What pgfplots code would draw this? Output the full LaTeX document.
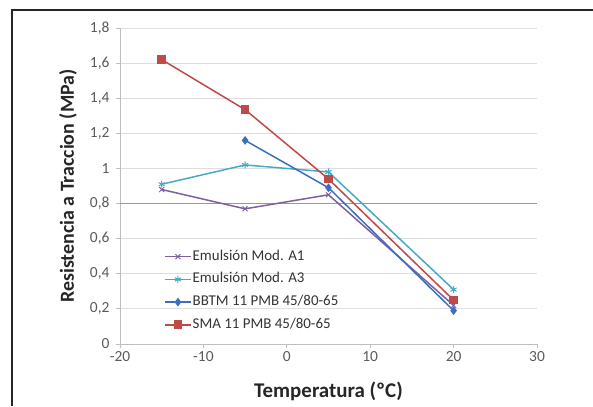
\documentclass[border=0pt]{standalone}
\usepackage{pgfplots}
\pgfplotsset{compat=1.18}
\usepackage{fontspec}
\setmainfont{Carlito}
\definecolor{cpurple}{RGB}{125,96,160}
\definecolor{ccyan}{RGB}{70,170,197}
\definecolor{cblue}{RGB}{60,110,190}
\definecolor{cred}{RGB}{190,75,72}
\definecolor{cgrid}{RGB}{222,222,222}
\definecolor{caxis}{RGB}{190,190,190}
\definecolor{ctick}{RGB}{90,90,90}
\begin{document}
\begin{tikzpicture}[x=1bp,y=1bp]
\useasboundingbox (-120,-62) rectangle (473,344);
\draw[line width=1.2bp,black!85] (-108,-62) -- (-108,334) -- (473,334);
\begin{axis}[
  at={(0,0)}, anchor=south west,
  scale only axis, width=417bp, height=316bp,
  xmin=-20, xmax=30, ymin=0, ymax=1.8,
  xtick={-20,-10,...,30}, ytick={0,0.2,...,1.8},
  axis x line=bottom, axis y line=left,
  axis line style={caxis, line width=0.8bp, -},
  tick style={caxis, line width=0.8bp},
  tick align=outside, major tick length=4bp,
  ymajorgrids, grid style={cgrid, line width=0.8bp},
  extra y ticks={0.8}, extra y tick labels={},
  extra y tick style={grid style={black!40, line width=0.8bp}},
  /pgf/number format/assume math mode=true,
  /pgf/number format/use comma,
  /pgf/number format/fixed,
  ticklabel style={font=\fontsize{15.5}{17}\selectfont, text=ctick},
  yticklabel style={xshift=-3bp},
  xlabel={\textbf{Temperatura (ºC)}},
  ylabel={\textbf{Resistencia a Traccion (MPa)}},
  xlabel style={font=\fontsize{21}{24}\selectfont, text=black!85,
    at={(rel axis cs:0.5,0)}, anchor=center, yshift=-47bp},
  ylabel style={font=\fontsize{20}{23}\selectfont, text=black!85,
    at={(rel axis cs:-0.1247,0.5)}, anchor=center, rotate=0},
  legend style={at={(44bp,95bp)}, anchor=north west, draw=none, fill=none,
    font=\fontsize{15}{17}\selectfont, text=black!80, row sep=7.7bp,
    inner sep=0pt, nodes={inner sep=1bp, text height=10bp, text depth=3bp}},
  legend cell align=left,
  legend image code/.code={\draw[mark repeat=2,mark phase=2]
    plot coordinates {(0bp,0bp) (13bp,0bp) (26bp,0bp)};},
  every axis plot/.append style={line width=1.5bp},
]
\addplot[cpurple, mark=x, mark size=3.5bp, mark options={line width=1bp}]
  coordinates {(-15,0.88) (-5,0.77) (5,0.85) (20,0.22)};
\addlegendentry{Emulsión Mod. A1}
\addplot[ccyan, mark=asterisk, mark size=3.5bp, mark options={line width=1bp}]
  coordinates {(-15,0.91) (-5,1.02) (5,0.98) (20,0.31)};
\addlegendentry{Emulsión Mod. A3}
\addplot[cblue, mark=diamond*, mark size=3.2bp]
  coordinates {(-5,1.16) (5,0.89) (20,0.19)};
\addlegendentry{BBTM 11 PMB 45/80-65}
\addplot[cred, mark=square*, mark size=3.6bp]
  coordinates {(-15,1.62) (-5,1.335) (5,0.94) (20,0.25)};
\addlegendentry{SMA 11 PMB 45/80-65}
\end{axis}
\end{tikzpicture}
\end{document}
